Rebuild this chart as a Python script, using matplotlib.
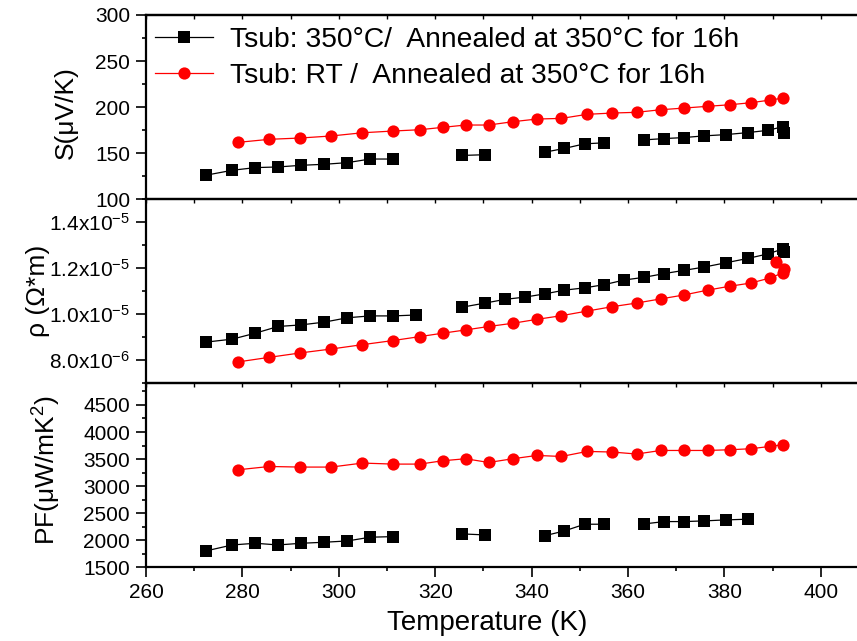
import numpy as np
import matplotlib
matplotlib.use("Agg")
import matplotlib.pyplot as plt
from matplotlib.ticker import MultipleLocator, FuncFormatter

nan = np.nan

# Sample deposited at 350 °C, annealed at 350 °C for 16 h
T_350 = [272.4, 277.9, 282.7, 287.4, 292.2, 297.0, 301.8, 306.5, 311.3, 316.1,
         320.8, 325.6, 330.4, 334.5, 338.7, 342.8, 346.8, 351.0, 355.1, 359.2,
         363.4, 367.5, 371.6, 375.7, 380.3, 384.9, 389.1, 392.1, 392.3]
S_350 = [126.1, 131.5, 134.4, 135.1, 136.9, 138.0, 139.8, 143.7, 143.7, nan,
         nan, 147.6, 148.4, nan, nan, 151.2, 155.2, 160.2, 161.3, nan,
         164.5, 165.9, 167.0, 168.8, 170.2, 172.4, 174.9, 178.8, 171.7]
rho_350 = [8.79, 8.92, 9.18, 9.47, 9.54, 9.66, 9.85, 9.93, 9.93, 9.97,
           nan, 10.31, 10.49, 10.65, 10.75, 10.89, 11.05, 11.15, 11.29, 11.49,
           11.61, 11.77, 11.91, 12.05, 12.24, 12.43, 12.63, 12.84, 12.70]  # x1e-6
PF_350 = [1802, 1913, 1944, 1913, 1944, 1963, 1987, 2056, 2067, nan,
          nan, 2117, 2098, nan, nan, 2085, 2172, 2296, 2296, nan,
          2302, 2345, 2345, 2357, 2376, 2389, nan, nan, nan]

# Sample deposited at room temperature, annealed at 350 °C for 16 h
T_RT = [279.1, 285.6, 292.0, 298.4, 304.9, 311.3, 316.8, 321.6, 326.3, 331.1,
        336.1, 341.1, 346.2, 351.5, 356.7, 361.8, 366.8, 371.6, 376.5, 381.1,
        385.5, 389.5, 392.2, 392.3, 390.8]
S_RT = [161.8, 165.1, 166.5, 168.7, 172.2, 174.1, 175.5, 178.1, 180.6, 180.6,
        184.2, 187.1, 187.8, 192.2, 193.6, 194.4, 197.2, 199.0, 200.9, 202.6,
        204.8, 207.7, 209.9, nan, nan]
rho_RT = [7.93, 8.13, 8.32, 8.49, 8.68, 8.86, 9.03, 9.18, 9.32, 9.47,
          9.61, 9.78, 9.94, 10.14, 10.33, 10.49, 10.67, 10.84, 11.05, 11.22,
          11.36, 11.58, 11.81, 11.98, 12.27]  # x1e-6
PF_RT = [3302, 3363, 3352, 3352, 3426, 3407, 3407, 3469, 3506, 3437,
         3506, 3567, 3548, 3641, 3630, 3593, 3659, 3659, 3659, 3672,
         3691, 3734, 3765, nan, nan]

label_350 = "Tsub: 350°C/  Annealed at 350°C for 16h"
label_RT = "Tsub: RT /  Annealed at 350°C for 16h"

plt.rcParams["font.family"] = ["Liberation Sans", "DejaVu Sans"]
plt.rcParams["mathtext.fontset"] = "custom"
plt.rcParams["mathtext.rm"] = "Liberation Sans"
plt.rcParams["mathtext.it"] = "Liberation Sans:italic"
plt.rcParams["mathtext.bf"] = "Liberation Sans:bold"

W, H = 857, 641
fig = plt.figure(figsize=(W / 100, H / 100), dpi=100)

x0_px, x1_px = 146, 869
left = x0_px / W
width = (x1_px - x0_px) / W
edges = [15, 199.3, 383.3, 567.3]
axes = []
for i in range(3):
    bottom = 1 - edges[i + 1] / H
    height = (edges[i + 1] - edges[i]) / H
    ax = fig.add_axes([left, bottom, width, height])
    ax.patch.set_visible(False)
    axes.append(ax)
axS, axR, axP = axes

black_kw = dict(color="black", marker="s", markersize=8.2, lw=0.9,
                markeredgewidth=0)
red_kw = dict(color="#ff0000", marker="o", markersize=8.8, lw=0.9,
              markeredgewidth=0)

axS.plot(T_350, S_350, label=label_350, **black_kw)
axS.plot(T_RT, S_RT, label=label_RT, **red_kw)
axR.plot(T_350, np.array(rho_350) * 1e-6, **black_kw)
axR.plot(T_RT, np.array(rho_RT) * 1e-6, **red_kw)
axP.plot(T_350, PF_350, **black_kw)
axP.plot(T_RT, PF_RT, **red_kw)

axS.set_ylim(100, 300)
axR.set_ylim(7e-6, 1.5e-5)
axP.set_ylim(1500, 4900)

axS.yaxis.set_major_locator(MultipleLocator(50))
axS.yaxis.set_minor_locator(MultipleLocator(25))
axR.yaxis.set_major_locator(MultipleLocator(2e-6))
axR.yaxis.set_minor_locator(MultipleLocator(1e-6))
axP.yaxis.set_major_locator(MultipleLocator(500))
axP.yaxis.set_minor_locator(MultipleLocator(250))


def sci_fmt(v, pos):
    mant, exp = f"{v:.1e}".split("e")
    return f"{mant}x10$^{{{int(exp)}}}$"


axR.yaxis.set_major_formatter(FuncFormatter(sci_fmt))

for ax in axes:
    ax.set_xlim(260, 410)
    ax.xaxis.set_major_locator(MultipleLocator(20))
    ax.xaxis.set_minor_locator(MultipleLocator(10))
    for s in ax.spines.values():
        s.set_linewidth(1.6)
    ax.spines["right"].set_visible(False)
    ax.tick_params(axis="y", which="major", direction="out", length=7,
                   width=1.2, labelsize=15, pad=4.5, right=False)
    ax.tick_params(axis="y", which="minor", direction="out", length=3.2,
                   width=1.2, right=False)

# upper two panels: short ticks hanging from the shared boundary
for ax in (axS, axR):
    ax.tick_params(axis="x", which="both", direction="out", length=3,
                   width=1.0, labelbottom=False, top=False)

axP.tick_params(axis="x", which="major", direction="out", length=7,
                width=1.2, labelsize=15, pad=4.5, top=False)
axP.tick_params(axis="x", which="minor", direction="out", length=3,
                width=1.2, top=False)

top = axS.secondary_xaxis("top")
top.xaxis.set_major_locator(MultipleLocator(10))
top.tick_params(axis="x", direction="in", length=3, width=1.0,
                labeltop=False)
top.spines["top"].set_linewidth(1.6)

lab_fs = 19
axS.set_ylabel("S(μV/K)", fontsize=lab_fs)
axR.set_ylabel("ρ (Ω*m)", fontsize=lab_fs)
axP.set_ylabel("PF(μW/mK$^2$)", fontsize=lab_fs)
axP.set_xlabel("Temperature (K)", fontsize=20)

aw = x1_px - x0_px
axS.yaxis.set_label_coords((78 - x0_px) / aw, 0.47)
axR.yaxis.set_label_coords((50 - x0_px) / aw, 0.5)
axP.yaxis.set_label_coords((63 - x0_px) / aw, 0.53)
axP.xaxis.set_label_coords((487.5 - x0_px) / aw, -0.23)

axS.legend(loc="upper left", bbox_to_anchor=(9 / aw, 1 - 12 / 184.3),
           frameon=False, fontsize=20.3, handlelength=2.06,
           handletextpad=0.6, labelspacing=0.36, borderpad=0,
           borderaxespad=0, numpoints=1)

fig.savefig("out.png", dpi=100)
